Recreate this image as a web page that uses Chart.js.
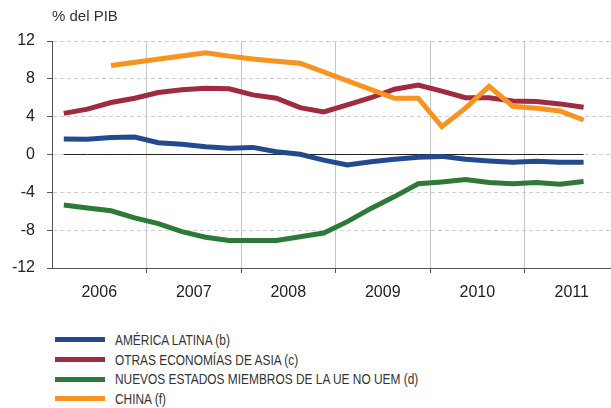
<!DOCTYPE html>
<html>
<head>
<meta charset="utf-8">
<script src="https://cdn.jsdelivr.net/npm/chart.js@4.4.0/dist/chart.umd.min.js"></script>
<style>
    body { margin: 0; background: #fff; width: 611px; height: 408px; overflow: hidden; position: relative; font-family: 'Liberation Sans', Arial, sans-serif; }
    #wrap { position: absolute; left: 0; top: 0; width: 611px; height: 310px; }
    #unit { position: absolute; left: 52px; top: 7px; font-size: 15px; color: #333; }
    #legend { position: absolute; left: 55px; top: 330px; }
    .row { height: 19.7px; display: flex; align-items: center; font-family: 'Liberation Sans', sans-serif; font-size: 14px; color: #333; white-space: nowrap; }
    .sw { width: 50px; height: 5px; margin-right: 10px; flex: none; }
    .tx { display: inline-block; transform: scaleX(0.85); transform-origin: left center; }
</style>
</head>
<body>
<div id="wrap"><canvas id="chart"></canvas></div>
<div id="unit">% del PIB</div>
<div id="legend"></div>
<script>
// trimestres 2006 T1 - 2011 T3
const years = ['2006', '2007', '2008', '2009', '2010', '2011'];
const quarters = [
    '2006T1', '2006T2', '2006T3', '2006T4',
    '2007T1', '2007T2', '2007T3', '2007T4',
    '2008T1', '2008T2', '2008T3', '2008T4',
    '2009T1', '2009T2', '2009T3', '2009T4',
    '2010T1', '2010T2', '2010T3', '2010T4',
    '2011T1', '2011T2', '2011T3'
];

const americaLatina = [1.65, 1.6, 1.8, 1.85, 1.25, 1.08, 0.83, 0.65, 0.75, 0.3, 0.02, -0.6,
    -1.1, -0.76, -0.5, -0.3, -0.2, -0.5, -0.68, -0.82, -0.72, -0.82, -0.82];
const otrasAsia = [4.35, 4.8, 5.5, 5.95, 6.55, 6.85, 7.0, 6.95, 6.3, 5.95, 4.95, 4.5,
    5.25, 6.0, 6.9, 7.35, 6.7, 6.0, 6.0, 5.65, 5.6, 5.35, 5.0];
const nuevosUE = [-5.35, -5.65, -5.95, -6.7, -7.3, -8.15, -8.75, -9.1, -9.1, -9.1, -8.7, -8.3,
    -7.1, -5.7, -4.45, -3.1, -2.9, -2.65, -2.95, -3.1, -2.95, -3.15, -2.85];
const china = [null, null, 9.4, null, null, null, 10.75, 10.4, 10.1, 9.85, 9.65, null,
    null, null, 5.95, 5.95, 2.95, 4.9, 7.2, 5.1, 4.9, 4.6, 3.65];

const series = [
    { label: 'AMÉRICA LATINA (b)', data: americaLatina, color: '#234a8e' },
    { label: 'OTRAS ECONOMÍAS DE ASIA (c)', data: otrasAsia, color: '#a02a3e' },
    { label: 'NUEVOS ESTADOS MIEMBROS DE LA UE NO UEM (d)', data: nuevosUE, color: '#2d7a38' },
    { label: 'CHINA (f)', data: china, color: '#f7931e' }
];

const toPoints = arr => arr.map((v, i) => ({ x: i, y: v }));

const datasets = series.map((s, k) => ({
    label: s.label,
    data: toPoints(s.data),
    borderColor: s.color,
    backgroundColor: s.color,
    borderWidth: 5,
    pointRadius: 0,
    tension: 0,
    spanGaps: true,
    order: 4 - k
}));

// linea del cero, solo donde hay datos
datasets.push({
    label: 'cero',
    data: quarters.map((q, i) => ({ x: i, y: 0 })),
    borderColor: '#222',
    borderWidth: 1,
    pointRadius: 0,
    order: 10
});

// posiciones en el eje x: centro de cada año y separacion entre años
const yearCenter = i => i * 4 + 1.5;
const yearEdge = i => i * 4 - 0.5;

const xTicks = [];
years.forEach((y, i) => {
    if (i > 0) xTicks.push({ value: yearEdge(i), edge: true });
    xTicks.push({ value: yearCenter(i), label: y });
});

new Chart(document.getElementById('chart'), {
    type: 'line',
    data: { datasets },
    options: {
        responsive: true,
        maintainAspectRatio: false,
        animation: false,
        layout: { padding: { top: 41, right: 0, left: 0, bottom: 0 } },
        plugins: { legend: { display: false }, tooltip: { enabled: false } },
        scales: {
            x: {
                type: 'linear',
                min: -0.5,
                max: 23.16,
                afterBuildTicks: scale => {
                    scale.ticks = xTicks.map(t => ({ value: t.value }));
                },
                afterFit: scale => { scale.height = 42; },
                ticks: {
                    autoSkip: false,
                    maxRotation: 0,
                    padding: 10,
                    color: '#222',
                    font: { family: 'Liberation Sans', size: 16 },
                    callback: (v) => {
                        const t = xTicks.find(t => t.value === v);
                        return t && t.label ? t.label : '';
                    }
                },
                grid: {
                    color: ctx => {
                        const t = xTicks.find(t => t.value === ctx.tick.value);
                        return t && t.edge ? '#c4c4c4' : 'rgba(0,0,0,0)';
                    },
                    tickColor: ctx => {
                        const t = xTicks.find(t => t.value === ctx.tick.value);
                        return t && t.edge ? '#555' : 'rgba(0,0,0,0)';
                    },
                    tickLength: 5,
                    lineWidth: 1
                },
                border: { color: '#555', width: 1 }
            },
            y: {
                min: -12,
                max: 12,
                afterFit: scale => { scale.width = 52; },
                ticks: {
                    stepSize: 4,
                    padding: 12,
                    color: '#222',
                    font: { family: 'Liberation Sans', size: 16 }
                },
                grid: {
                    color: '#cfcfcf',
                    tickColor: '#555',
                    tickLength: 5,
                    lineWidth: 1
                },
                border: { color: '#555', width: 1, dash: [4, 3] }
            }
        }
    }
});

// leyenda
const legend = document.getElementById('legend');
series.forEach(s => {
    const row = document.createElement('div');
    row.className = 'row';
    row.innerHTML = '<span class="sw" style="background:' + s.color + '"></span><span class="tx">' + s.label + '</span>';
    legend.appendChild(row);
});
</script>
</body>
</html>
